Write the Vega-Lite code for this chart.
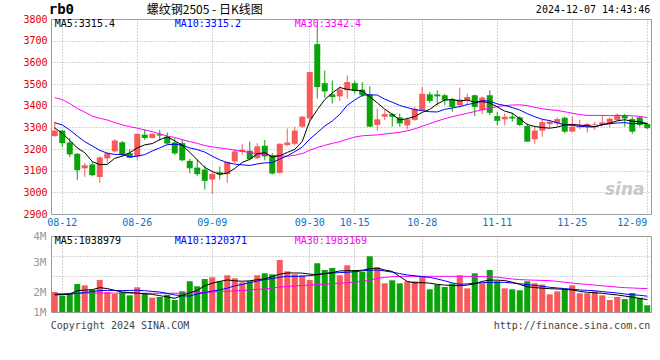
{
  "$schema": "https://vega.github.io/schema/vega-lite/v6.json",
  "padding": {"left": 22, "top": 2, "right": 0, "bottom": 0},
  "background": "white",
  "config": {
    "view": {"stroke": "#999", "strokeWidth": 1},
    "axis": {"labelFont": "DejaVu Sans Mono"}
  },
  "datasets": {
    "k": [
      {"d":"08-09","o":3260,"h":3326,"l":3257,"c":3285,"m5":3298,"m10":3321,"m30":3437,"v":1670000,"vm5":1440000,"vm10":1450000,"vm30":1530000},
      {"d":"08-12","o":3285,"h":3288,"l":3209,"c":3227,"m5":3272,"m10":3311,"m30":3428,"v":1360000,"vm5":1440000,"vm10":1470000,"vm30":1540000},
      {"d":"08-13","o":3230,"h":3250,"l":3163,"c":3175,"m5":3240,"m10":3288,"m30":3410,"v":1580000,"vm5":1500000,"vm10":1500000,"vm30":1550000},
      {"d":"08-14","o":3178,"h":3181,"l":3056,"c":3102,"m5":3205,"m10":3260,"m30":3387,"v":2330000,"vm5":1780000,"vm10":1560000,"vm30":1560000},
      {"d":"08-15","o":3111,"h":3135,"l":3071,"c":3125,"m5":3183,"m10":3234,"m30":3370,"v":2220000,"vm5":1820000,"vm10":1620000,"vm30":1570000},
      {"d":"08-16","o":3129,"h":3143,"l":3074,"c":3079,"m5":3142,"m10":3214,"m30":3352,"v":1860000,"vm5":1860000,"vm10":1700000,"vm30":1580000},
      {"d":"08-19","o":3071,"h":3166,"l":3044,"c":3161,"m5":3128,"m10":3194,"m30":3342,"v":2670000,"vm5":2030000,"vm10":1780000,"vm30":1580000},
      {"d":"08-20","o":3157,"h":3184,"l":3135,"c":3180,"m5":3129,"m10":3181,"m30":3334,"v":1670000,"vm5":1950000,"vm10":1800000,"vm30":1580000},
      {"d":"08-21","o":3189,"h":3245,"l":3184,"c":3239,"m5":3157,"m10":3175,"m30":3322,"v":1500000,"vm5":1800000,"vm10":1790000,"vm30":1570000},
      {"d":"08-22","o":3231,"h":3237,"l":3166,"c":3174,"m5":3167,"m10":3175,"m30":3311,"v":1670000,"vm5":1660000,"vm10":1780000,"vm30":1570000},
      {"d":"08-23","o":3181,"h":3199,"l":3157,"c":3160,"m5":3183,"m10":3163,"m30":3303,"v":1390000,"vm5":1620000,"vm10":1800000,"vm30":1570000},
      {"d":"08-26","o":3166,"h":3273,"l":3148,"c":3270,"m5":3205,"m10":3167,"m30":3296,"v":2060000,"vm5":1570000,"vm10":1810000,"vm30":1560000},
      {"d":"08-27","o":3266,"h":3291,"l":3242,"c":3251,"m5":3219,"m10":3174,"m30":3288,"v":1580000,"vm5":1520000,"vm10":1770000,"vm30":1560000},
      {"d":"08-28","o":3251,"h":3273,"l":3248,"c":3270,"m5":3225,"m10":3191,"m30":3280,"v":1170000,"vm5":1470000,"vm10":1720000,"vm30":1560000},
      {"d":"08-29","o":3268,"h":3288,"l":3239,"c":3262,"m5":3243,"m10":3205,"m30":3270,"v":1250000,"vm5":1360000,"vm10":1660000,"vm30":1560000},
      {"d":"08-30","o":3257,"h":3276,"l":3221,"c":3225,"m5":3256,"m10":3220,"m30":3260,"v":1440000,"vm5":1260000,"vm10":1550000,"vm30":1560000},
      {"d":"09-02","o":3230,"h":3250,"l":3172,"c":3180,"m5":3238,"m10":3222,"m30":3253,"v":1000000,"vm5":1140000,"vm10":1420000,"vm30":1560000},
      {"d":"09-03","o":3227,"h":3242,"l":3143,"c":3148,"m5":3217,"m10":3218,"m30":3243,"v":1720000,"vm5":1380000,"vm10":1350000,"vm30":1560000},
      {"d":"09-04","o":3145,"h":3154,"l":3088,"c":3111,"m5":3185,"m10":3205,"m30":3234,"v":2560000,"vm5":1600000,"vm10":1330000,"vm30":1570000},
      {"d":"09-05","o":3114,"h":3151,"l":3074,"c":3084,"m5":3150,"m10":3197,"m30":3226,"v":2140000,"vm5":1800000,"vm10":1500000,"vm30":1600000},
      {"d":"09-06","o":3105,"h":3123,"l":3013,"c":3053,"m5":3115,"m10":3186,"m30":3216,"v":2750000,"vm5":2190000,"vm10":1620000,"vm30":1630000},
      {"d":"09-09","o":3059,"h":3090,"l":2994,"c":3085,"m5":3096,"m10":3167,"m30":3210,"v":2890000,"vm5":2400000,"vm10":1740000,"vm30":1660000},
      {"d":"09-10","o":3093,"h":3120,"l":3059,"c":3082,"m5":3083,"m10":3150,"m30":3205,"v":2560000,"vm5":2550000,"vm10":1840000,"vm30":1700000},
      {"d":"09-11","o":3084,"h":3143,"l":3044,"c":3140,"m5":3089,"m10":3137,"m30":3200,"v":3060000,"vm5":2670000,"vm10":1980000,"vm30":1730000},
      {"d":"09-12","o":3143,"h":3199,"l":3135,"c":3189,"m5":3110,"m10":3130,"m30":3195,"v":2810000,"vm5":2600000,"vm10":2180000,"vm30":1760000},
      {"d":"09-13","o":3186,"h":3222,"l":3175,"c":3196,"m5":3138,"m10":3127,"m30":3189,"v":2470000,"vm5":2560000,"vm10":2300000,"vm30":1800000},
      {"d":"09-18","o":3192,"h":3234,"l":3148,"c":3154,"m5":3152,"m10":3124,"m30":3184,"v":2560000,"vm5":2600000,"vm10":2450000,"vm30":1840000},
      {"d":"09-19","o":3158,"h":3227,"l":3154,"c":3212,"m5":3178,"m10":3131,"m30":3178,"v":3060000,"vm5":2690000,"vm10":2580000,"vm30":1880000},
      {"d":"09-20","o":3215,"h":3242,"l":3148,"c":3166,"m5":3183,"m10":3136,"m30":3174,"v":3220000,"vm5":2760000,"vm10":2700000,"vm30":1930000},
      {"d":"09-23","o":3169,"h":3181,"l":3082,"c":3087,"m5":3163,"m10":3137,"m30":3170,"v":3140000,"vm5":2950000,"vm10":2780000,"vm30":2000000},
      {"d":"09-24","o":3090,"h":3227,"l":3087,"c":3224,"m5":3169,"m10":3154,"m30":3168,"v":4330000,"vm5":3150000,"vm10":2900000,"vm30":2070000},
      {"d":"09-25","o":3218,"h":3295,"l":3215,"c":3230,"m5":3184,"m10":3168,"m30":3167,"v":3390000,"vm5":3250000,"vm10":2970000,"vm30":2130000},
      {"d":"09-26","o":3224,"h":3303,"l":3218,"c":3285,"m5":3198,"m10":3188,"m30":3171,"v":3140000,"vm5":3250000,"vm10":2970000,"vm30":2170000},
      {"d":"09-27","o":3303,"h":3352,"l":3297,"c":3349,"m5":3235,"m10":3209,"m30":3179,"v":3060000,"vm5":3240000,"vm10":2980000,"vm30":2210000},
      {"d":"09-30","o":3341,"h":3555,"l":3326,"c":3555,"m5":3329,"m10":3246,"m30":3194,"v":2670000,"vm5":3150000,"vm10":3030000,"vm30":2250000},
      {"d":"10-08","o":3684,"h":3775,"l":3433,"c":3486,"m5":3381,"m10":3275,"m30":3207,"v":4060000,"vm5":3120000,"vm10":3100000,"vm30":2280000},
      {"d":"10-09","o":3504,"h":3562,"l":3437,"c":3466,"m5":3428,"m10":3306,"m30":3217,"v":3500000,"vm5":3200000,"vm10":3200000,"vm30":2320000},
      {"d":"10-10","o":3452,"h":3516,"l":3410,"c":3440,"m5":3459,"m10":3329,"m30":3226,"v":3670000,"vm5":3280000,"vm10":3250000,"vm30":2360000},
      {"d":"10-11","o":3443,"h":3489,"l":3422,"c":3474,"m5":3484,"m10":3360,"m30":3234,"v":3060000,"vm5":3420000,"vm10":3280000,"vm30":2400000},
      {"d":"10-14","o":3471,"h":3539,"l":3433,"c":3509,"m5":3475,"m10":3402,"m30":3245,"v":3890000,"vm5":3440000,"vm10":3310000,"vm30":2440000},
      {"d":"10-15","o":3504,"h":3516,"l":3455,"c":3468,"m5":3471,"m10":3426,"m30":3255,"v":3500000,"vm5":3440000,"vm10":3360000,"vm30":2500000},
      {"d":"10-16","o":3474,"h":3509,"l":3440,"c":3449,"m5":3468,"m10":3448,"m30":3261,"v":3330000,"vm5":3480000,"vm10":3420000,"vm30":2550000},
      {"d":"10-17","o":3452,"h":3489,"l":3303,"c":3303,"m5":3441,"m10":3450,"m30":3263,"v":4640000,"vm5":3600000,"vm10":3480000,"vm30":2650000},
      {"d":"10-18","o":3311,"h":3387,"l":3285,"c":3337,"m5":3413,"m10":3449,"m30":3265,"v":3720000,"vm5":3660000,"vm10":3500000,"vm30":2800000},
      {"d":"10-21","o":3349,"h":3379,"l":3334,"c":3361,"m5":3384,"m10":3430,"m30":3269,"v":2390000,"vm5":3500000,"vm10":3420000,"vm30":2880000},
      {"d":"10-22","o":3361,"h":3367,"l":3303,"c":3349,"m5":3360,"m10":3416,"m30":3273,"v":2640000,"vm5":3380000,"vm10":3320000,"vm30":2940000},
      {"d":"10-23","o":3346,"h":3364,"l":3303,"c":3318,"m5":3334,"m10":3401,"m30":3277,"v":2390000,"vm5":2950000,"vm10":3200000,"vm30":2970000},
      {"d":"10-24","o":3309,"h":3346,"l":3291,"c":3337,"m5":3340,"m10":3391,"m30":3284,"v":2560000,"vm5":2550000,"vm10":3080000,"vm30":2970000},
      {"d":"10-25","o":3334,"h":3394,"l":3330,"c":3385,"m5":3350,"m10":3382,"m30":3293,"v":2560000,"vm5":2420000,"vm10":3020000,"vm30":2970000},
      {"d":"10-28","o":3379,"h":3486,"l":3376,"c":3455,"m5":3369,"m10":3377,"m30":3305,"v":2970000,"vm5":2450000,"vm10":2940000,"vm30":2970000},
      {"d":"10-29","o":3452,"h":3463,"l":3413,"c":3422,"m5":3383,"m10":3372,"m30":3317,"v":1890000,"vm5":2400000,"vm10":2880000,"vm30":2970000},
      {"d":"10-30","o":3452,"h":3471,"l":3401,"c":3443,"m5":3408,"m10":3371,"m30":3329,"v":2280000,"vm5":2300000,"vm10":2750000,"vm30":2970000},
      {"d":"10-31","o":3448,"h":3455,"l":3402,"c":3425,"m5":3426,"m10":3383,"m30":3340,"v":2080000,"vm5":2240000,"vm10":2600000,"vm30":2970000},
      {"d":"11-01","o":3430,"h":3437,"l":3372,"c":3394,"m5":3428,"m10":3389,"m30":3349,"v":2360000,"vm5":2210000,"vm10":2420000,"vm30":2970000},
      {"d":"11-04","o":3402,"h":3483,"l":3391,"c":3428,"m5":3422,"m10":3396,"m30":3357,"v":3060000,"vm5":2190000,"vm10":2300000,"vm30":2970000},
      {"d":"11-05","o":3425,"h":3455,"l":3402,"c":3440,"m5":3426,"m10":3405,"m30":3365,"v":1970000,"vm5":2240000,"vm10":2340000,"vm30":2970000},
      {"d":"11-06","o":3448,"h":3452,"l":3352,"c":3394,"m5":3416,"m10":3412,"m30":3373,"v":3220000,"vm5":2350000,"vm10":2400000,"vm30":2960000},
      {"d":"11-07","o":3379,"h":3443,"l":3361,"c":3437,"m5":3419,"m10":3423,"m30":3381,"v":2390000,"vm5":2550000,"vm10":2440000,"vm30":2950000},
      {"d":"11-08","o":3448,"h":3471,"l":3356,"c":3367,"m5":3413,"m10":3421,"m30":3388,"v":3500000,"vm5":2660000,"vm10":2470000,"vm30":2930000},
      {"d":"11-11","o":3352,"h":3372,"l":3309,"c":3330,"m5":3394,"m10":3408,"m30":3396,"v":2560000,"vm5":2650000,"vm10":2470000,"vm30":2900000},
      {"d":"11-12","o":3337,"h":3364,"l":3309,"c":3349,"m5":3375,"m10":3401,"m30":3400,"v":1970000,"vm5":2620000,"vm10":2470000,"vm30":2820000},
      {"d":"11-13","o":3349,"h":3367,"l":3326,"c":3341,"m5":3365,"m10":3391,"m30":3403,"v":1890000,"vm5":2480000,"vm10":2420000,"vm30":2750000},
      {"d":"11-14","o":3346,"h":3352,"l":3306,"c":3311,"m5":3340,"m10":3380,"m30":3404,"v":1810000,"vm5":2300000,"vm10":2350000,"vm30":2700000},
      {"d":"11-15","o":3306,"h":3318,"l":3234,"c":3234,"m5":3313,"m10":3363,"m30":3400,"v":2560000,"vm5":2100000,"vm10":2280000,"vm30":2670000},
      {"d":"11-18","o":3245,"h":3303,"l":3224,"c":3285,"m5":3304,"m10":3349,"m30":3392,"v":2390000,"vm5":2040000,"vm10":2220000,"vm30":2650000},
      {"d":"11-19","o":3285,"h":3334,"l":3257,"c":3324,"m5":3299,"m10":3337,"m30":3386,"v":2280000,"vm5":1980000,"vm10":2140000,"vm30":2630000},
      {"d":"11-20","o":3315,"h":3334,"l":3297,"c":3326,"m5":3296,"m10":3331,"m30":3381,"v":1470000,"vm5":1940000,"vm10":2060000,"vm30":2610000},
      {"d":"11-21","o":3318,"h":3346,"l":3306,"c":3338,"m5":3301,"m10":3321,"m30":3378,"v":1720000,"vm5":1920000,"vm10":2000000,"vm30":2550000},
      {"d":"11-22","o":3344,"h":3349,"l":3273,"c":3280,"m5":3311,"m10":3312,"m30":3372,"v":1890000,"vm5":1880000,"vm10":1950000,"vm30":2480000},
      {"d":"11-25","o":3280,"h":3349,"l":3277,"c":3303,"m5":3314,"m10":3309,"m30":3365,"v":2220000,"vm5":1840000,"vm10":1890000,"vm30":2410000},
      {"d":"11-26","o":3300,"h":3334,"l":3291,"c":3306,"m5":3310,"m10":3305,"m30":3359,"v":1560000,"vm5":1720000,"vm10":1840000,"vm30":2350000},
      {"d":"11-27","o":3303,"h":3321,"l":3276,"c":3315,"m5":3308,"m10":3302,"m30":3355,"v":1560000,"vm5":1640000,"vm10":1800000,"vm30":2300000},
      {"d":"11-28","o":3312,"h":3326,"l":3288,"c":3315,"m5":3303,"m10":3302,"m30":3355,"v":1720000,"vm5":1600000,"vm10":1770000,"vm30":2240000},
      {"d":"11-29","o":3311,"h":3356,"l":3303,"c":3323,"m5":3312,"m10":3312,"m30":3355,"v":1390000,"vm5":1560000,"vm10":1700000,"vm30":2180000},
      {"d":"12-02","o":3318,"h":3346,"l":3300,"c":3340,"m5":3319,"m10":3317,"m30":3354,"v":1000000,"vm5":1480000,"vm10":1640000,"vm30":2130000},
      {"d":"12-03","o":3334,"h":3364,"l":3329,"c":3358,"m5":3330,"m10":3320,"m30":3354,"v":1250000,"vm5":1420000,"vm10":1580000,"vm30":2070000},
      {"d":"12-04","o":3356,"h":3361,"l":3303,"c":3341,"m5":3335,"m10":3322,"m30":3355,"v":1080000,"vm5":1330000,"vm10":1500000,"vm30":2030000},
      {"d":"12-05","o":3338,"h":3349,"l":3270,"c":3280,"m5":3328,"m10":3316,"m30":3353,"v":1580000,"vm5":1240000,"vm10":1440000,"vm30":2000000},
      {"d":"12-06","o":3346,"h":3352,"l":3303,"c":3311,"m5":3326,"m10":3319,"m30":3351,"v":1170000,"vm5":1120000,"vm10":1390000,"vm30":1970000},
      {"d":"12-09","o":3315,"h":3321,"l":3291,"c":3296,"m5":3317,"m10":3318,"m30":3345,"v":560000,"vm5":1040000,"vm10":1320000,"vm30":1950000}
    ]
  },
  "spacing": 22,
  "bounds": "flush",
  "vconcat": [
    {
      "width": 600,
      "height": 195,
      "resolve": {"axis": {"y": "independent"}},
      "encoding": {
        "x": {
          "field": "d", "type": "ordinal",
          "scale": {"type": "band", "paddingInner": 0.2, "paddingOuter": 0.1},
          "axis": {
            "title": null,
            "values": ["08-12","08-26","09-09","09-30","10-15","10-28","11-11","11-25","12-09"],
            "grid": true, "gridColor": "#aaa", "gridDash": [1, 2],
            "ticks": false, "domain": false,
            "labelAngle": 0, "labelColor": "#0a72c2", "labelFontSize": 10, "labelPadding": 3,
            "labelAlign": {"condition": {"test": "datum.value == '12-09'", "value": "right"}, "value": "center"}
          }
        }
      },
      "layer": [
        {
          "data": {"name": "k"},
          "mark": {"type": "rule", "strokeWidth": 1},
          "encoding": {
            "y": {
              "field": "l", "type": "quantitative",
              "scale": {"domain": [2900, 3800], "nice": false, "zero": false},
              "axis": {
                "title": null,
                "values": [2900,3000,3100,3200,3300,3400,3500,3600,3700,3800],
                "format": "d",
                "grid": true, "gridColor": "#aaa", "gridDash": [1, 2],
                "ticks": false, "domain": false,
                "labelColor": "#e00000", "labelFontSize": 10, "labelPadding": 4,
                "labelFlush": false, "labelOverlap": false
              }
            },
            "y2": {"field": "h"},
            "color": {"condition": {"test": "datum.c >= datum.o", "value": "#f65a5a"}, "value": "#0aa30a"}
          }
        },
        {
          "data": {"name": "k"},
          "mark": {"type": "bar"},
          "encoding": {
            "y": {"field": "o", "type": "quantitative", "axis": null},
            "y2": {"field": "c"},
            "color": {"condition": {"test": "datum.c >= datum.o", "value": "#f65a5a"}, "value": "#0aa30a"}
          }
        },
        {
          "data": {"name": "k"},
          "mark": {"type": "line", "color": "#ff00ff", "strokeWidth": 1},
          "encoding": {"y": {"field": "m30", "type": "quantitative", "axis": null}}
        },
        {
          "data": {"name": "k"},
          "mark": {"type": "line", "color": "#0000ff", "strokeWidth": 1},
          "encoding": {"y": {"field": "m10", "type": "quantitative", "axis": null}}
        },
        {
          "data": {"name": "k"},
          "mark": {"type": "line", "color": "#000000", "strokeWidth": 1},
          "encoding": {"y": {"field": "m5", "type": "quantitative", "axis": null}}
        },
        {
          "data": {"values": [{"d": "08-09", "p": 3842, "t": "rb0"}]},
          "mark": {"type": "text", "align": "left", "baseline": "middle", "dx": -6, "font": "DejaVu Sans Mono", "fontWeight": "bold", "fontSize": 14, "color": "#000"},
          "encoding": {"y": {"field": "p", "type": "quantitative", "axis": null}, "text": {"field": "t"}}
        },
        {
          "data": {"values": [{"d": "09-06", "p": 3842, "t": "螺纹钢2505 - 日K线图"}]},
          "mark": {"type": "text", "align": "center", "baseline": "middle", "font": "Noto Sans CJK SC", "fontSize": 12, "color": "#000"},
          "encoding": {"y": {"field": "p", "type": "quantitative", "axis": null}, "text": {"field": "t"}}
        },
        {
          "data": {"values": [{"d": "12-09", "p": 3840, "t": "2024-12-07 14:43:46"}]},
          "mark": {"type": "text", "align": "right", "baseline": "middle", "dx": 3, "font": "DejaVu Sans Mono", "fontSize": 10, "color": "#000"},
          "encoding": {"y": {"field": "p", "type": "quantitative", "axis": null}, "text": {"field": "t"}}
        },
        {
          "data": {"values": [{"d": "08-09", "p": 3775, "t": "MA5:3315.4"}]},
          "mark": {"type": "text", "align": "left", "baseline": "middle", "font": "DejaVu Sans Mono", "fontSize": 10, "color": "#000"},
          "encoding": {"y": {"field": "p", "type": "quantitative", "axis": null}, "text": {"field": "t"}}
        },
        {
          "data": {"values": [{"d": "09-02", "p": 3775, "t": "MA10:3315.2"}]},
          "mark": {"type": "text", "align": "left", "baseline": "middle", "font": "DejaVu Sans Mono", "fontSize": 10, "color": "#0000ff"},
          "encoding": {"y": {"field": "p", "type": "quantitative", "axis": null}, "text": {"field": "t"}}
        },
        {
          "data": {"values": [{"d": "09-26", "p": 3775, "t": "MA30:3342.4"}]},
          "mark": {"type": "text", "align": "left", "baseline": "middle", "font": "DejaVu Sans Mono", "fontSize": 10, "color": "#ff00ff"},
          "encoding": {"y": {"field": "p", "type": "quantitative", "axis": null}, "text": {"field": "t"}}
        },
        {
          "data": {"values": [{"d": "12-04", "p": 3012, "t": "sina"}]},
          "mark": {"type": "text", "align": "center", "baseline": "middle", "font": "DejaVu Sans", "fontStyle": "italic", "fontWeight": "bold", "fontSize": 17, "color": "#c8c8c8"},
          "encoding": {"y": {"field": "p", "type": "quantitative", "axis": null}, "text": {"field": "t"}}
        }
      ]
    },
    {
      "width": 600,
      "height": 76,
      "resolve": {"axis": {"y": "independent"}},
      "encoding": {
        "x": {
          "field": "d", "type": "ordinal",
          "scale": {"type": "band", "paddingInner": 0.2, "paddingOuter": 0.1},
          "axis": {
            "title": null,
            "values": ["08-12","08-26","09-09","09-30","10-15","10-28","11-11","11-25","12-09"],
            "grid": true, "gridColor": "#aaa", "gridDash": [1, 2],
            "ticks": false, "domain": false, "labels": false
          }
        }
      },
      "layer": [
        {
          "data": {"name": "k"},
          "mark": {"type": "bar"},
          "encoding": {
            "y": {
              "field": "v", "type": "quantitative",
              "scale": {"domain": [0, 6330000], "nice": false},
              "axis": {
                "title": null,
                "values": [0, 1625000, 4125000, 6330000],
                "labelExpr": "datum.value < 1000000 ? '1M' : datum.value < 3000000 ? '2M' : datum.value < 5000000 ? '3M' : '4M'",
                "grid": false, "ticks": false, "domain": false,
                "labelColor": "#999", "labelFontSize": 11, "labelPadding": 5,
                "labelFlush": false, "labelOverlap": false
              }
            },
            "color": {"condition": {"test": "datum.c >= datum.o", "value": "#f65a5a"}, "value": "#0aa30a"}
          }
        },
        {
          "data": {"name": "k"},
          "mark": {"type": "line", "color": "#ff00ff", "strokeWidth": 1},
          "encoding": {
            "y": {
              "field": "vm30", "type": "quantitative",
              "axis": {
                "orient": "right", "title": null,
                "values": [1290000, 2960000, 4630000],
                "grid": true, "gridColor": "#aaa", "gridDash": [1, 2],
                "labels": false, "ticks": false, "domain": false
              }
            }
          }
        },
        {
          "data": {"name": "k"},
          "mark": {"type": "line", "color": "#0000ff", "strokeWidth": 1},
          "encoding": {"y": {"field": "vm10", "type": "quantitative", "axis": null}}
        },
        {
          "data": {"name": "k"},
          "mark": {"type": "line", "color": "#000000", "strokeWidth": 1},
          "encoding": {"y": {"field": "vm5", "type": "quantitative", "axis": null}}
        },
        {
          "data": {"values": [{"d": "08-09", "p": 5950000, "t": "MA5:1038979"}]},
          "mark": {"type": "text", "align": "left", "baseline": "middle", "font": "DejaVu Sans Mono", "fontSize": 10, "color": "#000"},
          "encoding": {"y": {"field": "p", "type": "quantitative", "axis": null}, "text": {"field": "t"}}
        },
        {
          "data": {"values": [{"d": "09-02", "p": 5950000, "t": "MA10:1320371"}]},
          "mark": {"type": "text", "align": "left", "baseline": "middle", "font": "DejaVu Sans Mono", "fontSize": 10, "color": "#0000ff"},
          "encoding": {"y": {"field": "p", "type": "quantitative", "axis": null}, "text": {"field": "t"}}
        },
        {
          "data": {"values": [{"d": "09-26", "p": 5950000, "t": "MA30:1983169"}]},
          "mark": {"type": "text", "align": "left", "baseline": "middle", "font": "DejaVu Sans Mono", "fontSize": 10, "color": "#ff00ff"},
          "encoding": {"y": {"field": "p", "type": "quantitative", "axis": null}, "text": {"field": "t"}}
        },
        {
          "data": {"values": [{"d": "08-09", "p": -1125000, "t": "Copyright 2024 SINA.COM"}]},
          "mark": {"type": "text", "align": "left", "baseline": "middle", "dx": -4, "font": "DejaVu Sans Mono", "fontSize": 10, "color": "#444"},
          "encoding": {"y": {"field": "p", "type": "quantitative", "axis": null}, "text": {"field": "t"}}
        },
        {
          "data": {"values": [{"d": "12-09", "p": -1125000, "t": "http://finance.sina.com.cn"}]},
          "mark": {"type": "text", "align": "right", "baseline": "middle", "dx": 3, "font": "DejaVu Sans Mono", "fontSize": 10, "color": "#444"},
          "encoding": {"y": {"field": "p", "type": "quantitative", "axis": null}, "text": {"field": "t"}}
        }
      ]
    }
  ]
}
